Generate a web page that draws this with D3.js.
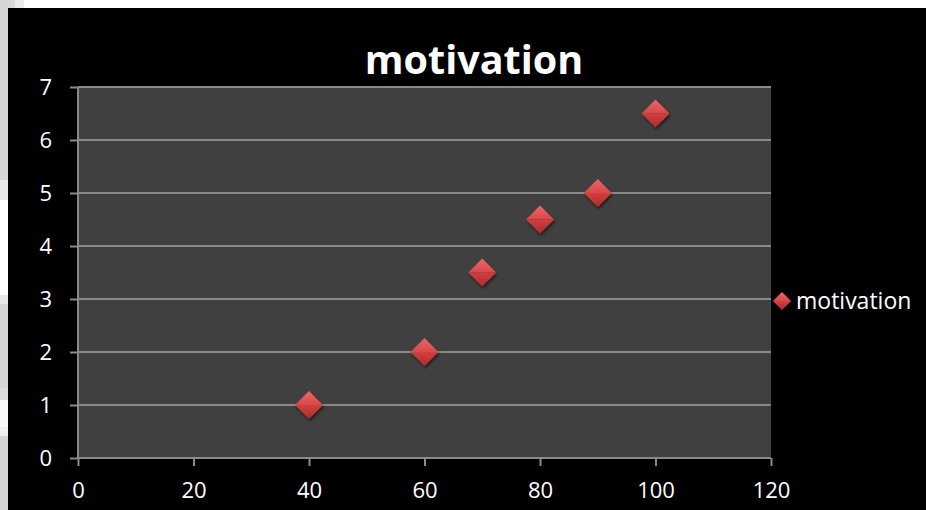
<!DOCTYPE html>
<html>
<head>
<meta charset="utf-8">
<script src="https://cdn.jsdelivr.net/npm/d3@7"></script>
<style>
  html, body { margin: 0; padding: 0; background: #ffffff; }
  svg { display: block; }
  text { font-variant-ligatures: none; font-feature-settings: "liga" 0; }
</style>
</head>
<body>
<svg id="chart" width="926" height="510"></svg>
<script>
// Scatter data: motivation score against x value
const xValues = [40, 60, 70, 80, 90, 100];
const yValues = [1, 2, 3.5, 4.5, 5, 6.5];
const xTicks = [0, 20, 40, 60, 80, 100, 120];
const yTicks = [0, 1, 2, 3, 4, 5, 6, 7];
const seriesName = "motivation";
const chartTitle = "motivation";

const svg = d3.select("#chart");
const W = 926, H = 510;
const font = "'Open Sans', sans-serif";

// Side strip of grey panels to the left of the black chart area
const stripBands = [
  [0, 180, "#d6d6d6"], [180, 200, "#e8e8e8"], [200, 295, "#ffffff"],
  [295, 304, "#e8e8e8"], [304, 388, "#d6d6d6"], [388, 400, "#dedede"],
  [400, 427, "#f8f8f8"], [427, 436, "#f0f0f0"], [436, 510, "#d6d6d6"]
];
svg.append("g").selectAll("rect").data(stripBands).join("rect")
  .attr("x", 0).attr("y", d => d[0]).attr("width", 8).attr("height", d => d[1] - d[0])
  .attr("fill", d => d[2]);
svg.append("rect").attr("x", 8).attr("y", 0).attr("width", 7).attr("height", 8).attr("fill", "#d9d9d9");
svg.append("rect").attr("x", 15).attr("y", 0).attr("width", 9).attr("height", 8).attr("fill", "#ececec");

// Chart background
svg.append("rect").attr("x", 8).attr("y", 8).attr("width", W - 8).attr("height", H - 8).attr("fill", "#000000");

const plot = { left: 78, right: 771, top: 87, bottom: 458 };
const x = d3.scaleLinear().domain([0, 120]).range([plot.left, plot.right]);
const y = d3.scaleLinear().domain([0, 7]).range([plot.bottom, plot.top]);

// Plot area fill
svg.append("rect")
  .attr("x", plot.left).attr("y", plot.top)
  .attr("width", plot.right - plot.left).attr("height", plot.bottom - plot.top)
  .attr("fill", "#404040");

// Horizontal gridlines
svg.append("g").selectAll("line").data(yTicks.filter(t => t > 0)).join("line")
  .attr("x1", plot.left).attr("x2", plot.right)
  .attr("y1", d => y(d)).attr("y2", d => y(d))
  .attr("stroke", "#8a8a8a").attr("stroke-width", 2);

// Y axis
const yAxis = svg.append("g")
  .attr("transform", `translate(${plot.left},0)`)
  .call(d3.axisLeft(y).tickValues(yTicks).tickSize(8).tickPadding(18).tickFormat(d3.format("d")));
// X axis
const xAxis = svg.append("g")
  .attr("transform", `translate(0,${plot.bottom})`)
  .call(d3.axisBottom(x).tickValues(xTicks).tickSize(8).tickPadding(16).tickFormat(d3.format("d")));

[yAxis, xAxis].forEach(a => {
  a.select(".domain").attr("stroke", "#8a8a8a").attr("stroke-width", 2)
    .attr("d", a === yAxis
      ? `M0,${plot.top}V${plot.bottom}`
      : `M${plot.left},0H${plot.right}`);
  a.selectAll(".tick line").attr("stroke", "#8a8a8a").attr("stroke-width", 2);
  a.selectAll(".tick text").attr("fill", "#ffffff")
    .attr("font-family", font).attr("font-size", 22);
});

// Marker gradients
const defs = svg.append("defs");
const gTop = defs.append("linearGradient").attr("id", "gTop").attr("x1", 0).attr("y1", 0).attr("x2", 0).attr("y2", 1);
gTop.append("stop").attr("offset", "0%").attr("stop-color", "#e86868");
gTop.append("stop").attr("offset", "100%").attr("stop-color", "#d94848");
const gBot = defs.append("linearGradient").attr("id", "gBot").attr("x1", 0).attr("y1", 0).attr("x2", 0).attr("y2", 1);
gBot.append("stop").attr("offset", "0%").attr("stop-color", "#d04040");
gBot.append("stop").attr("offset", "100%").attr("stop-color", "#b02a2a");
const shadow = defs.append("filter").attr("id", "shadow").attr("x", "-50%").attr("y", "-50%").attr("width", "200%").attr("height", "200%");
shadow.append("feDropShadow").attr("dx", 1).attr("dy", 2).attr("stdDeviation", 1.5)
  .attr("flood-color", "#000").attr("flood-opacity", 0.6);

function diamond(g, r) {
  g.append("path").attr("d", `M${-r},0L0,${-r}L${r},0Z`).attr("fill", "url(#gTop)");
  g.append("path").attr("d", `M${-r},0L${r},0L0,${r}Z`).attr("fill", "url(#gBot)");
}

const points = xValues.map((v, i) => ({ x: v, y: yValues[i] }));
svg.append("g").selectAll("g").data(points).join("g")
  .attr("transform", d => `translate(${x(d.x)},${y(d.y)})`)
  .attr("filter", "url(#shadow)")
  .each(function () { diamond(d3.select(this), 14); });

// Title
svg.append("text")
  .attr("x", 474).attr("y", 74)
  .attr("text-anchor", "middle")
  .attr("fill", "#ffffff").attr("font-family", font)
  .attr("font-weight", "bold").attr("font-size", 39.5)
  .text(chartTitle);

// Legend
const legend = svg.append("g").attr("transform", "translate(782,301)");
legend.append("g").attr("filter", "url(#shadow)").call(g => diamond(g, 9));
legend.append("text").attr("x", 14).attr("y", 8)
  .attr("fill", "#ffffff").attr("font-family", font).attr("font-size", 23)
  .text(seriesName);
</script>
</body>
</html>
